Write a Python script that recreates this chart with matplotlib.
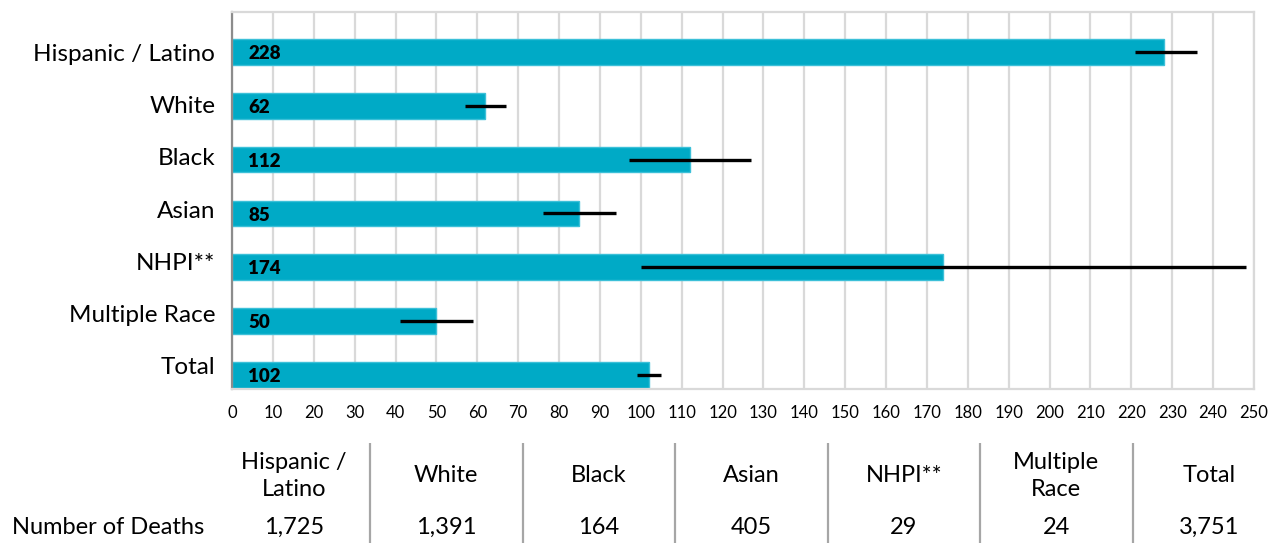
import numpy as np
import matplotlib
matplotlib.use('Agg')
import matplotlib.pyplot as plt

# chart data
groups = ['Hispanic / Latino', 'White', 'Black', 'Asian', 'NHPI**', 'Multiple Race', 'Total']
rates = [228, 62, 112, 85, 174, 50, 102]
ci_low = [221, 57, 97, 76, 100, 41, 99]
ci_high = [236, 67, 127, 94, 248, 59, 105]

# table under the chart
table_headers = ['Hispanic /\nLatino', 'White', 'Black', 'Asian', 'NHPI**', 'Multiple\nRace', 'Total']
deaths = ['1,725', '1,391', '164', '405', '29', '24', '3,751']
row_label = 'Number of Deaths'

plt.rcParams['font.family'] = ['Lato', 'DejaVu Sans']

W, H = 1269, 543
fig = plt.figure(figsize=(W / 100, H / 100), dpi=100)

# main bar chart
ax = fig.add_axes([232 / W, 1 - 389 / H, (1254 - 232) / W, (389 - 12) / H])
y = np.arange(len(groups))
# bars sit in the lower half of each category band (as in the Excel original)
ybar = y + 0.24
rates_a = np.array(rates)
xerr = [rates_a - np.array(ci_low), np.array(ci_high) - rates_a]

ax.barh(ybar, rates, height=0.48, color='#00AAC6', edgecolor='#3CC0D8', linewidth=1, zorder=2)
ax.errorbar(rates, ybar, xerr=xerr, fmt='none', ecolor='black', elinewidth=2.4,
            capsize=0, zorder=3)

for yi, v in zip(ybar, rates):
    ax.text(4.0, yi + 0.03, str(v), ha='left', va='center', fontsize=13.5,
            fontweight='heavy', color='black', zorder=4)

ax.set_xlim(0, 250)
ax.set_ylim(len(groups) - 0.5, -0.5)
ax.set_xticks(np.arange(0, 251, 10))
# category labels drift slightly upward relative to the bars in the original
ax.set_yticks(y * 0.966 + 0.26)
ax.set_yticklabels(groups, fontsize=17.5)
ax.tick_params(axis='x', labelsize=12, length=0, pad=11.5)
ax.tick_params(axis='y', length=0, pad=12)
ax.grid(axis='x', color='#D9D9D9', linewidth=1.6, zorder=0)
ax.set_axisbelow(True)

for s in ['top', 'right', 'bottom']:
    ax.spines[s].set_color('#D9D9D9')
    ax.spines[s].set_linewidth(1.6)
ax.spines['left'].set_color('#8C8C8C')
ax.spines['left'].set_linewidth(1.6)

# table below
tx0 = 217.5
colw = 152.5
tab = fig.add_axes([tx0 / W, 0, len(groups) * colw / W, 100 / H])
tab.set_xlim(0, len(groups))
tab.set_ylim(0, 1)
tab.axis('off')

for i, (hd, n) in enumerate(zip(table_headers, deaths)):
    tab.text(i + 0.5, 0.67, hd, ha='center', va='center', fontsize=17, linespacing=1.35)
    tab.text(i + 0.5, 0.155, n, ha='center', va='center', fontsize=17)
for i in range(1, len(groups)):
    tab.plot([i, i], [0, 1], color='#A6A6A6', linewidth=1.6)
tab.text((12 - tx0) / colw, 0.155, row_label, ha='left', va='center', fontsize=17)

fig.savefig('out.png', dpi=100)
